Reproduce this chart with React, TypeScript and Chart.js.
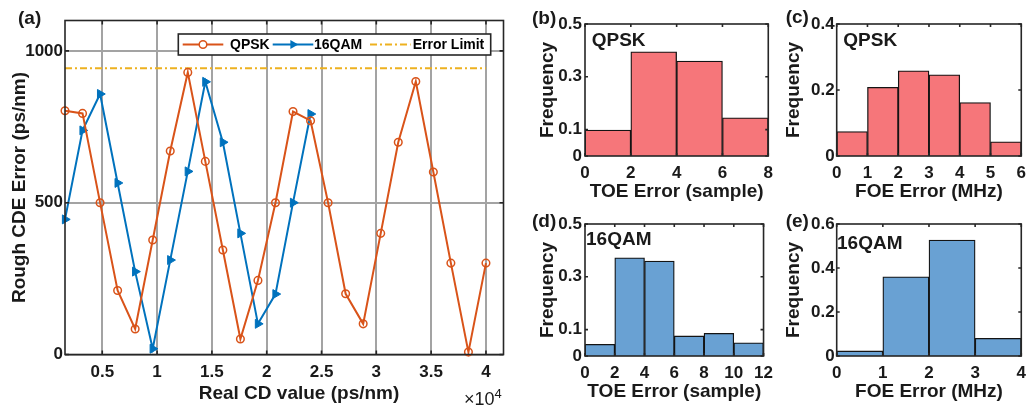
import React, { useEffect, useRef } from 'react';
import { Chart, registerables } from 'chart.js';

Chart.register(...registerables);

// ---------------- data ----------------
const cdValues = [
  1600, 3200, 4800, 6400, 8000, 9600, 11200, 12800, 14400, 16000, 17600, 19200, 20800,
  22400, 24000, 25600, 27200, 28800, 30400, 32000, 33600, 35200, 36800, 38400, 40000,
];
const qpskError = [
  803, 794, 500, 211, 84, 377, 670, 929, 636, 344, 51, 244, 500, 800, 770, 500, 200, 101,
  399, 699, 899, 601, 301, 8, 301,
];
const qam16Error = [445, 738, 858, 565, 273, 19, 311, 603, 898, 699, 399, 101, 199, 500, 792];
const errorLimit = 943;
const mainXTicks = [5000, 10000, 15000, 20000, 25000, 30000, 35000, 40000];
const mainYTicks = [0, 500, 1000];

const toeQpskCenters = [1, 3, 5, 7];
const toeQpskFreq = [0.098, 0.395, 0.36, 0.145];
const foeQpskCenters = [0.5, 1.5, 2.5, 3.5, 4.5, 5.5];
const foeQpskFreq = [0.074, 0.208, 0.258, 0.246, 0.162, 0.043];
const toe16Centers = [1, 3, 5, 7, 9, 11];
const toe16Freq = [0.044, 0.372, 0.36, 0.076, 0.086, 0.05];
const foe16Centers = [0.5, 1.5, 2.5, 3.5];
const foe16Freq = [0.023, 0.36, 0.527, 0.08];

const toeQpskXTicks = [0, 2, 4, 6, 8];
const foeQpskXTicks = [0, 1, 2, 3, 4, 5, 6];
const toe16XTicks = [0, 2, 4, 6, 8, 10, 12];
const foe16XTicks = [0, 1, 2, 3, 4];
const freqTicksHalf = [0, 0.1, 0.3, 0.5];
const freqTicksFoeQpsk = [0, 0.2, 0.4];
const freqTicksFoe16 = [0, 0.2, 0.4, 0.6];

// ---------------- styles ----------------
const FONT = '"Liberation Sans", Arial, Helvetica, sans-serif';
const TEXT = '#1a1a1a';
const AXIS = '#262626';
const ORANGE = '#D95319';
const BLUE = '#0072BD';
const YELLOW = '#EDB120';
const RED_BAR = '#F6767A';
const BLUE_BAR = '#69A1D3';

Chart.defaults.font.family = FONT;
Chart.defaults.color = TEXT;

const boxPlugin = {
  id: 'matlabBox',
  afterDatasetsDraw(chart: any, _args: any, opts: any) {
    const { ctx, chartArea: a, scales } = chart;
    const L = opts.tickLen ?? 4;
    ctx.save();
    ctx.strokeStyle = AXIS;
    ctx.lineWidth = opts.lineWidth ?? 1.5;
    ctx.beginPath();
    for (const t of scales.x.ticks) {
      const p = scales.x.getPixelForValue(t.value);
      ctx.moveTo(p, a.bottom);
      ctx.lineTo(p, a.bottom - L);
      ctx.moveTo(p, a.top);
      ctx.lineTo(p, a.top + L);
    }
    for (const t of scales.y.ticks) {
      const p = scales.y.getPixelForValue(t.value);
      ctx.moveTo(a.left, p);
      ctx.lineTo(a.left + L, p);
      ctx.moveTo(a.right, p);
      ctx.lineTo(a.right - L, p);
    }
    ctx.stroke();
    ctx.strokeRect(a.left, a.top, a.right - a.left, a.bottom - a.top);
    ctx.restore();
  },
};

const legendPlugin = {
  id: 'boxLegend',
  afterDraw(chart: any, _args: any, o: any) {
    const { ctx, chartArea: a } = chart;
    const x0 = a.left + o.dx;
    const y0 = a.top + o.dy;
    ctx.save();
    ctx.fillStyle = '#fff';
    ctx.fillRect(x0, y0, o.w, o.h);
    ctx.strokeStyle = AXIS;
    ctx.lineWidth = 1.6;
    ctx.strokeRect(x0, y0, o.w, o.h);
    const cy = y0 + o.h / 2;
    chart.data.datasets.forEach((ds: any, i: number) => {
      const lx = x0 + o.lineX[i];
      ctx.strokeStyle = ds.borderColor;
      ctx.lineWidth = ds.borderWidth;
      ctx.setLineDash(ds.borderDash || []);
      ctx.beginPath();
      ctx.moveTo(lx, cy);
      ctx.lineTo(lx + o.lineLen, cy);
      ctx.stroke();
      ctx.setLineDash([]);
      const mx = lx + o.lineLen / 2;
      if (ds.pointStyle === 'circle' && ds.pointRadius > 0) {
        ctx.lineWidth = ds.pointBorderWidth;
        ctx.beginPath();
        ctx.arc(mx, cy, ds.pointRadius, 0, Math.PI * 2);
        ctx.fillStyle = '#fff';
        ctx.fill();
        ctx.stroke();
      } else if (ds.pointStyle === 'triangle' && ds.pointRadius > 0) {
        const r = ds.pointRadius;
        ctx.fillStyle = ds.pointBackgroundColor;
        ctx.beginPath();
        ctx.moveTo(mx + r, cy);
        ctx.lineTo(mx - r / 2, cy - r * 0.866);
        ctx.lineTo(mx - r / 2, cy + r * 0.866);
        ctx.closePath();
        ctx.fill();
      }
      ctx.fillStyle = '#000';
      ctx.font = 'bold 14px ' + FONT;
      ctx.textBaseline = 'middle';
      ctx.fillText(ds.label, x0 + o.textX[i], cy + 0.5);
    });
    ctx.restore();
  },
};

function MainChart() {
  const ref = useRef<HTMLCanvasElement>(null);
  useEffect(() => {
    const chart = new Chart(ref.current as HTMLCanvasElement, {
      type: 'line',
      data: {
        datasets: [
          {
            label: 'QPSK',
            data: cdValues.map((x, i) => ({ x, y: qpskError[i] })),
            borderColor: ORANGE,
            backgroundColor: 'rgba(0,0,0,0)',
            borderWidth: 2,
            pointStyle: 'circle',
            pointRadius: 3.8,
            pointBorderWidth: 1.5,
            pointBorderColor: ORANGE,
            pointBackgroundColor: 'rgba(0,0,0,0)',
            clip: false,
          } as any,
          {
            label: '16QAM',
            data: qam16Error.map((y, i) => ({ x: cdValues[i], y })),
            borderColor: BLUE,
            backgroundColor: BLUE,
            borderWidth: 2,
            pointStyle: 'triangle',
            pointRotation: 90,
            pointRadius: 5.2,
            pointBorderWidth: 1,
            pointBorderColor: BLUE,
            pointBackgroundColor: BLUE,
            clip: false,
          } as any,
          {
            label: 'Error Limit',
            data: [
              { x: cdValues[0], y: errorLimit },
              { x: cdValues[cdValues.length - 1], y: errorLimit },
            ],
            borderColor: YELLOW,
            borderWidth: 2,
            borderDash: [7, 3, 2, 3],
            pointRadius: 0,
          } as any,
        ],
      },
      options: {
        responsive: false,
        animation: false,
        devicePixelRatio: 1,
        layout: { padding: { top: 20.5, right: 11.5, left: 0, bottom: 0 } },
        plugins: {
          legend: { display: false },
          tooltip: { enabled: false },
          matlabBox: { tickLen: 4, lineWidth: 1.6 },
          boxLegend: {
            dx: 113.3,
            dy: 13.5,
            w: 312.4,
            h: 21,
            lineX: [4.4, 94.4, 191.7],
            lineLen: 40.6,
            textX: [51.7, 135.7, 234.4],
          },
        } as any,
        scales: {
          x: {
            type: 'linear',
            min: 1600,
            max: 41600,
            afterBuildTicks: (s: any) => {
              s.ticks = mainXTicks.map((v) => ({ value: v }));
            },
            afterFit: (s: any) => {
              s.height = 50.5;
            },
            ticks: {
              callback: (v: any) => String(Number(v) / 10000),
              font: { size: 17, weight: 'bold' },
              color: TEXT,
              padding: 8,
              maxRotation: 0,
            },
            grid: { color: '#a3a3a3', lineWidth: 2, drawTicks: false },
            border: { display: false },
          },
          y: {
            type: 'linear',
            min: 0,
            max: 1100,
            afterBuildTicks: (s: any) => {
              s.ticks = mainYTicks.map((v) => ({ value: v }));
            },
            afterFit: (s: any) => {
              s.width = 65;
            },
            ticks: {
              callback: (v: any) => String(v),
              font: { size: 17, weight: 'bold' },
              color: TEXT,
              padding: 2,
            },
            grid: { color: '#a3a3a3', lineWidth: 2, drawTicks: false },
            border: { display: false },
            title: {
              display: true,
              text: 'Rough CDE Error (ps/nm)',
              font: { size: 19, weight: 'bold' },
              color: TEXT,
              padding: { top: 8.5, bottom: 0 },
            },
          },
        },
      } as any,
      plugins: [boxPlugin, legendPlugin],
    });
    return () => chart.destroy();
  }, []);
  return (
    <canvas
      ref={ref}
      width={515}
      height={405}
      style={{ position: 'absolute', left: 0, top: 0, width: 515, height: 405 }}
    />
  );
}

type HistProps = {
  left: number;
  top: number;
  width: number;
  height: number;
  yWidth: number;
  xHeight: number;
  padTop: number;
  padRight: number;
  centers: number[];
  freq: number[];
  color: string;
  xMax: number;
  xTicks: number[];
  yMax: number;
  yTicks: number[];
  xTitle: string;
  yTitlePad: number;
  yTickPad: number;
};

function Histogram(p: HistProps) {
  const ref = useRef<HTMLCanvasElement>(null);
  useEffect(() => {
    const chart = new Chart(ref.current as HTMLCanvasElement, {
      type: 'bar',
      data: {
        datasets: [
          {
            data: p.centers.map((x, i) => ({ x, y: p.freq[i] })),
            backgroundColor: p.color,
            borderColor: '#141414',
            borderWidth: 1.3,
            barPercentage: 1,
            categoryPercentage: 1,
          } as any,
        ],
      },
      options: {
        responsive: false,
        animation: false,
        devicePixelRatio: 1,
        layout: { padding: { top: p.padTop, right: p.padRight, left: 0, bottom: 0 } },
        plugins: {
          legend: { display: false },
          tooltip: { enabled: false },
          matlabBox: { tickLen: 3, lineWidth: 1.6 },
        } as any,
        scales: {
          x: {
            type: 'linear',
            min: 0,
            max: p.xMax,
            offset: false,
            afterBuildTicks: (s: any) => {
              s.ticks = p.xTicks.map((v) => ({ value: v }));
            },
            afterFit: (s: any) => {
              s.height = p.xHeight;
            },
            ticks: {
              callback: (v: any) => String(v),
              font: { size: 17, weight: 'bold' },
              color: TEXT,
              padding: 7,
              maxRotation: 0,
            },
            grid: { display: false, drawTicks: false },
            border: { display: false },
            title: {
              display: true,
              text: p.xTitle,
              font: { size: 19, weight: 'bold' },
              color: TEXT,
              padding: { top: 0, bottom: 1.6 },
            },
          },
          y: {
            type: 'linear',
            min: 0,
            max: p.yMax,
            afterBuildTicks: (s: any) => {
              s.ticks = p.yTicks.map((v) => ({ value: v }));
            },
            afterFit: (s: any) => {
              s.width = p.yWidth;
            },
            ticks: {
              callback: (v: any) => String(v),
              font: { size: 17, weight: 'bold' },
              color: TEXT,
              padding: p.yTickPad,
            },
            grid: { display: false, drawTicks: false },
            border: { display: false },
            title: {
              display: true,
              text: 'Frequency',
              font: { size: 19, weight: 'bold' },
              color: TEXT,
              padding: { top: p.yTitlePad, bottom: 0 },
            },
          },
        },
      } as any,
      plugins: [boxPlugin],
    });
    return () => chart.destroy();
  }, []);
  return (
    <canvas
      ref={ref}
      width={p.width}
      height={p.height}
      style={{ position: 'absolute', left: p.left, top: p.top, width: p.width, height: p.height }}
    />
  );
}

function Label({ x, y, text, size = 19, weight = 'bold' as any }: any) {
  return (
    <div
      style={{
        position: 'absolute',
        left: x,
        top: y,
        transform: 'translateY(-50%)',
        fontFamily: FONT,
        fontSize: size,
        fontWeight: weight,
        lineHeight: 1,
        whiteSpace: 'nowrap',
        color: TEXT,
      }}
    >
      {text}
    </div>
  );
}

export default function App() {
  return (
    <div
      style={{
        position: 'absolute',
        left: 0,
        top: 0,
        width: 1033,
        height: 405,
        background: '#fff',
        overflow: 'hidden',
      }}
    >
      <MainChart />
      <Histogram
        left={520} top={0} width={260} height={205}
        yWidth={65} xHeight={49} padTop={24} padRight={8.3}
        centers={toeQpskCenters} freq={toeQpskFreq} color={RED_BAR}
        xMax={8} xTicks={toeQpskXTicks} yMax={0.5} yTicks={freqTicksHalf}
        xTitle="TOE Error (sample)" yTitlePad={16.6} yTickPad={3}
      />
      <Histogram
        left={780} top={0} width={253} height={205}
        yWidth={56.7} xHeight={49} padTop={24} padRight={9}
        centers={foeQpskCenters} freq={foeQpskFreq} color={RED_BAR}
        xMax={6} xTicks={foeQpskXTicks} yMax={0.4} yTicks={freqTicksFoeQpsk}
        xTitle="FOE Error (MHz)" yTitlePad={1.9} yTickPad={2}
      />
      <Histogram
        left={520} top={205} width={260} height={200}
        yWidth={65} xHeight={49} padTop={19} padRight={8.3}
        centers={toe16Centers} freq={toe16Freq} color={BLUE_BAR}
        xMax={12} xTicks={toe16XTicks} yMax={0.5} yTicks={freqTicksHalf}
        xTitle="TOE Error (sample)" yTitlePad={16.6} yTickPad={3}
      />
      <Histogram
        left={780} top={205} width={253} height={200}
        yWidth={56.7} xHeight={49} padTop={19} padRight={9}
        centers={foe16Centers} freq={foe16Freq} color={BLUE_BAR}
        xMax={4} xTicks={foe16XTicks} yMax={0.6} yTicks={freqTicksFoe16}
        xTitle="FOE Error (MHz)" yTitlePad={1.9} yTickPad={2}
      />
      <Label x={18} y={17} text="(a)" />
      <Label x={532} y={17} text="(b)" />
      <Label x={785.7} y={16} text="(c)" />
      <Label x={532} y={220} text="(d)" />
      <Label x={785.7} y={220} text="(e)" />
      <Label x={591.7} y={39} text="QPSK" />
      <Label x={843.3} y={39} text="QPSK" />
      <Label x={586} y={237.5} text="16QAM" />
      <Label x={837} y={242} text="16QAM" />
      <div
        style={{
          position: 'absolute',
          left: 299,
          top: 391.7,
          transform: 'translate(-50%, -50%)',
          fontFamily: FONT,
          fontSize: 19,
          fontWeight: 'bold',
          lineHeight: 1,
          whiteSpace: 'nowrap',
          color: TEXT,
        }}
      >
        Real CD value (ps/nm)
      </div>
      <div
        style={{
          position: 'absolute',
          left: 464,
          top: 399,
          transform: 'translateY(-50%)',
          fontFamily: FONT,
          fontSize: 18,
          fontWeight: 'normal',
          lineHeight: 1,
          whiteSpace: 'nowrap',
          color: TEXT,
        }}
      >
        ×10
        <span style={{ position: 'relative', top: -7, fontSize: 13 }}>4</span>
      </div>
    </div>
  );
}
